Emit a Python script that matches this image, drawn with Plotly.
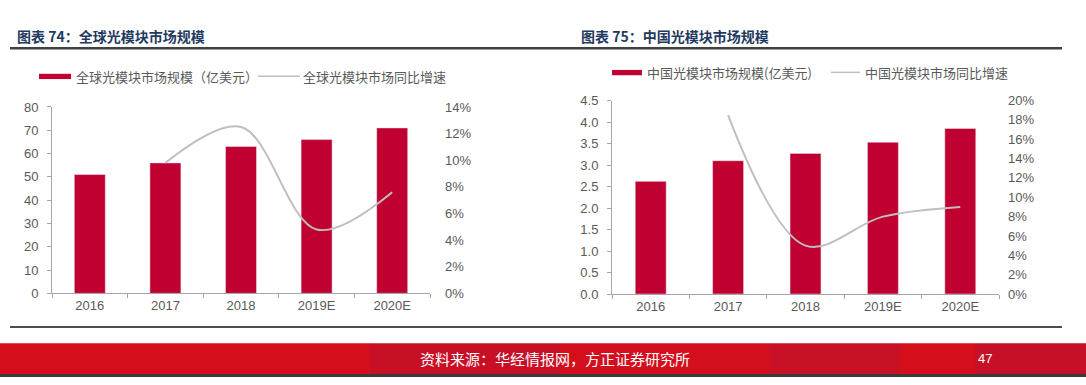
import plotly.graph_objects as go

W, H = 1086, 385

years = ["2016", "2017", "2018", "2019E", "2020E"]
global_size = [51, 56, 63, 66, 71]            # 亿美元
global_growth = [None, 0.098, 0.125, 0.048, 0.076]
china_size = [2.62, 3.10, 3.27, 3.53, 3.85]   # 亿美元
china_growth = [None, 0.185, 0.050, 0.080, 0.090]

left_ticks = [0, 10, 20, 30, 40, 50, 60, 70, 80]
left_pct_ticks = [0, 0.02, 0.04, 0.06, 0.08, 0.10, 0.12, 0.14]
right_ticks = [0, 0.5, 1.0, 1.5, 2.0, 2.5, 3.0, 3.5, 4.0, 4.5]
right_pct_ticks = [0, 0.02, 0.04, 0.06, 0.08, 0.10, 0.12, 0.14, 0.16, 0.18, 0.20]

BAR = "#BF0031"
LINE = "#BFBFBF"
TXT = "#595959"
AXL = "#A6A6A6"
NAVY = "#1F3A60"
CJK = "Noto Sans CJK SC"
LAT = "Liberation Sans, Arial, sans-serif"


def px(x):
    return x / W


def py(y):
    return (H - y) / H


fig = go.Figure()
fig.add_trace(go.Bar(x=years, y=global_size, marker_color=BAR, width=0.41,
                     xaxis="x", yaxis="y", showlegend=False,
                     name="全球光模块市场规模（亿美元）"))
fig.add_trace(go.Scatter(x=years, y=global_growth, mode="lines",
                         line=dict(color=LINE, width=2, shape="spline", smoothing=1),
                         xaxis="x", yaxis="y2", showlegend=False,
                         name="全球光模块市场同比增速"))
fig.add_trace(go.Bar(x=years, y=china_size, marker_color=BAR, width=0.40,
                     xaxis="x2", yaxis="y3", showlegend=False,
                     name="中国光模块市场规模(亿美元)"))
fig.add_trace(go.Scatter(x=years, y=china_growth, mode="lines",
                         line=dict(color=LINE, width=2, shape="spline", smoothing=1),
                         xaxis="x2", yaxis="y4", showlegend=False,
                         name="中国光模块市场同比增速"))

tickfont = dict(family=LAT, size=13, color=TXT)

xcommon = dict(type="category", range=[-0.5, 4.5], showline=True, linecolor=AXL,
               linewidth=1, ticks="outside", tickson="boundaries", ticklen=4,
               tickcolor=AXL, tickfont=tickfont, showgrid=False, zeroline=False,
               fixedrange=True)

fig.update_layout(
    width=W, height=H,
    margin=dict(l=0, r=0, t=0, b=0),
    paper_bgcolor="white", plot_bgcolor="white",
    bargap=0.5,
    xaxis=dict(domain=[px(52), px(430)], anchor="y", **xcommon),
    yaxis=dict(domain=[py(298), py(104)], anchor="x", range=[0, 80],
               tickvals=left_ticks, showline=True, linecolor=AXL, linewidth=1,
               ticks="outside", ticklen=4, tickcolor=AXL, tickfont=tickfont,
               showgrid=False, zeroline=False, ticklabelstandoff=6),
    yaxis2=dict(overlaying="y", side="right", anchor="x", range=[0, 0.14],
                tickvals=left_pct_ticks, tickformat=".0%", showline=False,
                showgrid=False, zeroline=False, tickfont=tickfont,
                ticklabelstandoff=14),
    xaxis2=dict(domain=[px(612), px(999)], anchor="y3", **xcommon),
    yaxis3=dict(domain=[py(298.7), py(97.3)], anchor="x2", range=[0, 4.5],
                tickvals=right_ticks, tickformat=".1f", showline=True,
                linecolor=AXL, linewidth=1, ticks="outside", ticklen=4,
                tickcolor=AXL, tickfont=tickfont, showgrid=False,
                zeroline=False, ticklabelstandoff=6),
    yaxis4=dict(overlaying="y3", side="right", anchor="x2", range=[0, 0.20],
                tickvals=right_pct_ticks, tickformat=".0%", showline=False,
                showgrid=False, zeroline=False, tickfont=tickfont,
                ticklabelstandoff=8),
)

shapes = []
annotations = []

# title rules
shapes.append(dict(type="line", xref="paper", yref="paper", x0=px(10), x1=px(1062),
                   y0=py(43), y1=py(43), line=dict(color="#404040", width=2.5)))
shapes.append(dict(type="line", xref="paper", yref="paper", x0=px(10), x1=px(1062),
                   y0=py(333), y1=py(333), line=dict(color="#111111", width=1.5)))

# footer band
bands = [(0, 370, "#D50E1C"), (370, 560, "#C71026"), (560, 770, "#D30F1E"),
         (770, 900, "#C81027"), (900, 975, "#D50E1C"), (975, 1086, "#C51028")]
for x0, x1, c in bands:
    shapes.append(dict(type="rect", xref="paper", yref="paper", x0=px(x0), x1=px(x1),
                       y0=py(382), y1=py(350), line=dict(width=0), fillcolor=c,
                       layer="below"))
shapes.append(dict(type="rect", xref="paper", yref="paper", x0=0, x1=1,
                   y0=0, y1=py(382), line=dict(width=0), fillcolor="#3A3A3A",
                   layer="below"))

# legend swatches
shapes.append(dict(type="rect", xref="paper", yref="paper", x0=px(39), x1=px(71),
                   y0=py(75), y1=py(69.5), line=dict(width=0), fillcolor=BAR))
shapes.append(dict(type="line", xref="paper", yref="paper", x0=px(258), x1=px(300),
                   y0=py(72), y1=py(72), line=dict(color=LINE, width=1.5)))
shapes.append(dict(type="rect", xref="paper", yref="paper", x0=px(612), x1=px(642),
                   y0=py(71), y1=py(65.5), line=dict(width=0), fillcolor=BAR))
shapes.append(dict(type="line", xref="paper", yref="paper", x0=px(831), x1=px(860),
                   y0=py(68), y1=py(68), line=dict(color=LINE, width=1.5)))


def text(x, y, s, size, color, family=CJK, xanchor="left"):
    annotations.append(dict(x=px(x), y=py(y), xref="paper", yref="paper", text=s,
                            showarrow=False, xanchor=xanchor, yanchor="middle",
                            font=dict(family=family, size=size, color=color)))


text(15, 30, "<b>图表 74：全球光模块市场规模</b>", 14, NAVY)
text(579, 30, "<b>图表 75：中国光模块市场规模</b>", 14, NAVY)
text(74, 72, "全球光模块市场规模（亿美元）", 13, TXT)
text(301, 72, "全球光模块市场同比增速", 13, TXT)
text(645, 68, "中国光模块市场规模(亿美元)", 13, TXT)
text(863, 68, "中国光模块市场同比增速", 13, TXT)
text(555, 366, "资料来源：华经情报网，方正证券研究所", 15, "white", xanchor="center")
text(985, 366, "47", 13, "white", family=LAT, xanchor="center")

fig.update_layout(shapes=shapes, annotations=annotations)

fig.write_html(
    "out.html",
    config={"displayModeBar": False},
    post_script="document.body.style.margin='0';document.body.style.padding='0';"
                "document.body.style.overflow='hidden';",
)
